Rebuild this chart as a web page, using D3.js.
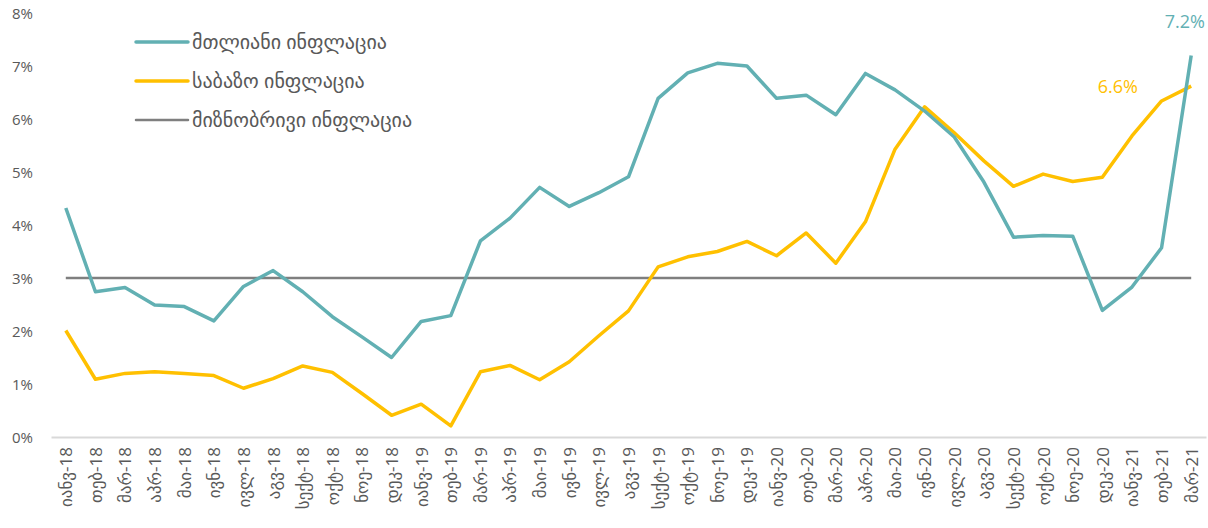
<html lang="ka">
<head>
    <meta charset="utf-8">
    <title>ინფლაცია</title>
    <script type="text/javascript" src="https://cdn.jsdelivr.net/npm/d3@7"></script>
    <style type="text/css">
        body { margin: 0; background: #fff; }
        text { font-family: "Open Sans", "DejaVu Sans", sans-serif; }
    </style>
</head>
<body>
<script type="text/javascript">
    // months Jan-18 .. Mar-21
    var months = ["იანვ-18", "თებ-18", "მარ-18", "აპრ-18", "მაი-18", "ივნ-18", "ივლ-18", "აგვ-18", "სექტ-18", "ოქტ-18", "ნოე-18", "დეკ-18",
                  "იანვ-19", "თებ-19", "მარ-19", "აპრ-19", "მაი-19", "ივნ-19", "ივლ-19", "აგვ-19", "სექტ-19", "ოქტ-19", "ნოე-19", "დეკ-19",
                  "იანვ-20", "თებ-20", "მარ-20", "აპრ-20", "მაი-20", "ივნ-20", "ივლ-20", "აგვ-20", "სექტ-20", "ოქტ-20", "ნოე-20", "დეკ-20",
                  "იანვ-21", "თებ-21", "მარ-21"];
    var headline = [4.32, 2.74, 2.82, 2.49, 2.46, 2.19, 2.84, 3.14, 2.74, 2.27, 1.89, 1.50,
                    2.18, 2.29, 3.70, 4.13, 4.71, 4.35, 4.61, 4.91, 6.39, 6.87, 7.05, 7.00,
                    6.39, 6.45, 6.08, 6.86, 6.55, 6.15, 5.66, 4.81, 3.77, 3.80, 3.79, 2.39,
                    2.83, 3.57, 7.20];
    var core = [2.01, 1.09, 1.20, 1.23, 1.20, 1.16, 0.92, 1.10, 1.34, 1.22, 0.82, 0.41,
                0.62, 0.21, 1.23, 1.35, 1.08, 1.42, 1.91, 2.38, 3.21, 3.40, 3.50, 3.69,
                3.42, 3.85, 3.28, 4.06, 5.43, 6.23, 5.74, 5.21, 4.73, 4.96, 4.82, 4.90,
                5.68, 6.34, 6.62];
    var target = months.map(function() { return 3; });
    var yTicks = [0, 1, 2, 3, 4, 5, 6, 7, 8];
    var seriesNames = ["მთლიანი ინფლაცია", "საბაზო ინფლაცია", "მიზნობრივი ინფლაცია"];
    var colors = ["#62b0b3", "#ffc000", "#7f7f7f"];

    var w = 1208, h = 528;
    var plotLeft = 51, plotRight = 1206, plotTop = 13, plotBottom = 437;

    var svg = d3.select("body").append("svg")
            .attr("width", w)
            .attr("height", h);

    var x = d3.scalePoint()
            .domain(months)
            .range([plotLeft, plotRight])
            .padding(0.5);
    var y = d3.scaleLinear()
            .domain([0, 8])
            .range([plotBottom, plotTop]);

    // y axis (labels only)
    var yAxis = svg.append("g")
            .attr("transform", "translate(" + plotLeft + ",0)")
            .call(d3.axisLeft(y).tickValues(yTicks).tickSize(0).tickPadding(18)
                .tickFormat(function(d) { return d + "%"; }));
    yAxis.select(".domain").remove();
    yAxis.selectAll("text")
            .attr("font-size", "15px")
            .attr("fill", "#595959")
            .attr("dy", "0.35em");

    // x axis
    var xAxis = svg.append("g")
            .attr("transform", "translate(0," + plotBottom + ")")
            .call(d3.axisBottom(x).tickSize(0).tickPadding(0));
    xAxis.select(".domain")
            .attr("stroke", "#d9d9d9")
            .attr("stroke-width", 2);
    xAxis.selectAll("text")
            .attr("font-size", "17px")
            .attr("fill", "#595959")
            .attr("text-anchor", "end")
            .attr("transform", "translate(0,10) rotate(-90)")
            .attr("x", 0)
            .attr("y", 0)
            .attr("dy", "0.35em");

    var line = d3.line()
            .x(function(d, i) { return x(months[i]); })
            .y(function(d) { return y(d); });

    var all = [headline, core, target];
    var widths = [3.5, 3.5, 2.5];
    // target first, then core, headline on top
    [2, 1, 0].forEach(function(k) {
        svg.append("path")
                .datum(all[k])
                .attr("d", line)
                .attr("fill", "none")
                .attr("stroke", colors[k])
                .attr("stroke-width", widths[k])
                .attr("stroke-linejoin", "round");
    });

    // end labels
    svg.append("text")
            .attr("x", 1205)
            .attr("y", 28)
            .attr("text-anchor", "end")
            .attr("font-size", "18px")
            .attr("fill", colors[0])
            .text(headline[headline.length - 1].toFixed(1) + "%");
    svg.append("text")
            .attr("x", 1138)
            .attr("y", 93)
            .attr("text-anchor", "end")
            .attr("font-size", "18px")
            .attr("fill", colors[1])
            .text(core[core.length - 1].toFixed(1) + "%");

    // legend
    var legend = svg.selectAll("g.legend")
            .data(seriesNames)
            .enter()
            .append("g")
            .attr("class", "legend")
            .attr("transform", function(d, i) { return "translate(136," + (42 + i * 39) + ")"; });
    legend.append("line")
            .attr("x1", 0)
            .attr("x2", 52)
            .attr("stroke", function(d, i) { return colors[i]; })
            .attr("stroke-width", function(d, i) { return widths[i]; })
            .attr("stroke-linecap", "round");
    legend.append("text")
            .attr("x", 56)
            .attr("dy", "0.35em")
            .attr("font-size", "20px")
            .attr("fill", "#595959")
            .text(function(d) { return d; });
</script>
</body>
</html>
